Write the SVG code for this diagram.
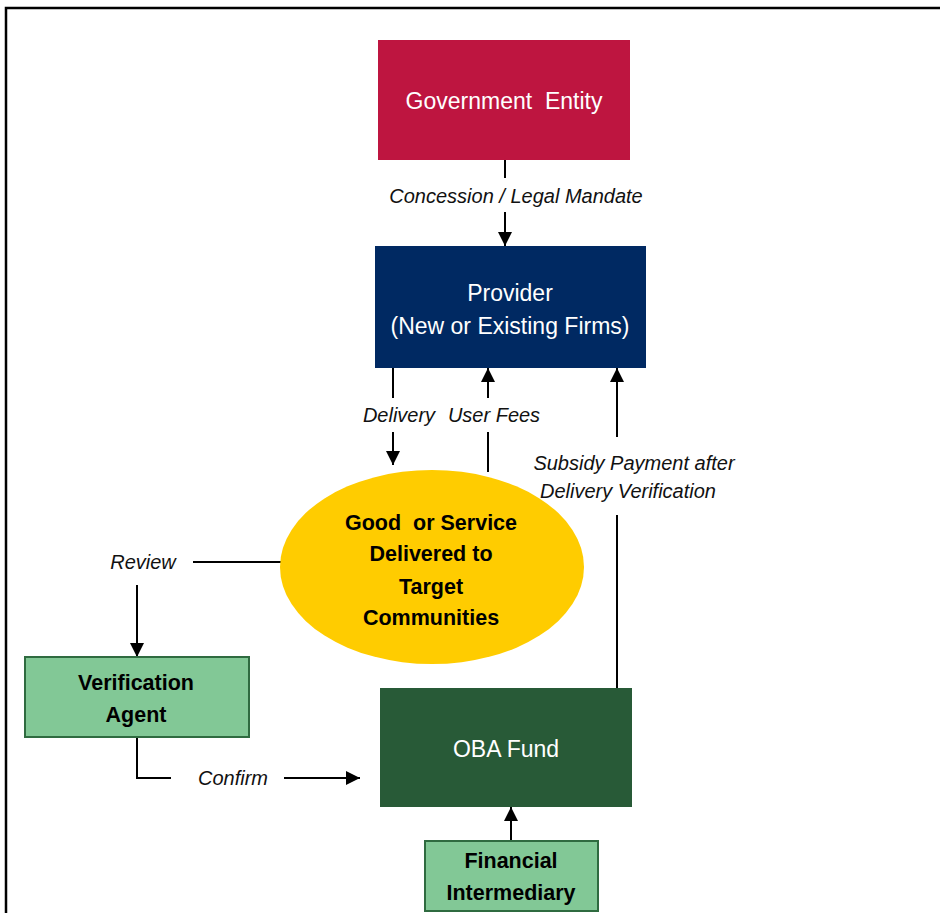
<svg xmlns="http://www.w3.org/2000/svg" width="940" height="913" viewBox="0 0 940 913">
<defs>
<marker id="ah" viewBox="0 0 10 10" refX="10" refY="5" markerWidth="14" markerHeight="14" markerUnits="userSpaceOnUse" orient="auto">
<path d="M0,0 L10,5 L0,10 Z" fill="#000"/>
</marker>
<style>
text{font-family:"Liberation Sans",Arial,sans-serif;text-anchor:middle}
.w{fill:#fff;font-size:23px}
.b{fill:#000;font-size:21.5px;font-weight:bold}
.l{fill:#111;font-size:20px;font-style:italic}
.c{stroke:#000;stroke-width:2;fill:none}
.lg{fill:#82C896;stroke:#2F6B40;stroke-width:2}
</style>
</defs>
<rect width="940" height="913" fill="#fff"/>
<path d="M6,913 V8 H940" fill="none" stroke="#000" stroke-width="2.5"/>

<g id="connectors">
<line class="c" x1="505" y1="160" x2="505" y2="178"/>
<line class="c" x1="505" y1="212" x2="505" y2="246" marker-end="url(#ah)"/>
<line class="c" x1="393" y1="368" x2="393" y2="398"/>
<line class="c" x1="393" y1="432" x2="393" y2="465" marker-end="url(#ah)"/>
<line class="c" x1="488" y1="472" x2="488" y2="432"/>
<line class="c" x1="488" y1="398" x2="488" y2="368" marker-end="url(#ah)"/>
<line class="c" x1="617" y1="688" x2="617" y2="515"/>
<line class="c" x1="617" y1="437" x2="617" y2="368" marker-end="url(#ah)"/>
<line class="c" x1="281" y1="562" x2="193" y2="562"/>
<line class="c" x1="137" y1="585" x2="137" y2="657" marker-end="url(#ah)"/>
<polyline class="c" points="137,737 137,778 171,778"/>
<line class="c" x1="284" y1="778" x2="360" y2="778" marker-end="url(#ah)"/>
<line class="c" x1="511" y1="841" x2="511" y2="807" marker-end="url(#ah)"/>
<text class="l" x="516" y="203">Concession / Legal Mandate</text>
<text class="l" x="399" y="422">Delivery</text>
<text class="l" x="494" y="422">User Fees</text>
<text class="l" x="634" y="470">Subsidy Payment after</text>
<text class="l" x="628" y="498">Delivery Verification</text>
<text class="l" x="143" y="569">Review</text>
<text class="l" x="233" y="785">Confirm</text>
</g>

<g id="government">
<rect x="378" y="40" width="252" height="120" fill="#BE1540"/>
<text class="w" x="504" y="109" style="white-space:pre">Government  Entity</text>
</g>

<g id="provider">
<rect x="375" y="246" width="271" height="122" fill="#002962"/>
<text class="w" x="510" y="301">Provider</text>
<text class="w" x="510" y="334">(New or Existing Firms)</text>
</g>

<g id="good">
<ellipse cx="432" cy="567" rx="152" ry="97" fill="#FFCC00"/>
<text class="b" x="431" y="530" style="white-space:pre">Good  or Service</text>
<text class="b" x="431" y="561">Delivered to</text>
<text class="b" x="431" y="594">Target</text>
<text class="b" x="431" y="625">Communities</text>
</g>

<g id="verification">
<rect class="lg" x="25" y="657" width="224" height="80"/>
<text class="b" x="136" y="690" font-size="22.5">Verification</text>
<text class="b" x="136" y="722" font-size="22.5">Agent</text>
</g>

<g id="oba">
<rect x="380" y="688" width="252" height="119" fill="#285A37"/>
<text class="w" x="506" y="757">OBA Fund</text>
</g>

<g id="financial">
<rect class="lg" x="425" y="841" width="173" height="70"/>
<text class="b" x="511" y="868">Financial</text>
<text class="b" x="511" y="900">Intermediary</text>
</g>
</svg>
